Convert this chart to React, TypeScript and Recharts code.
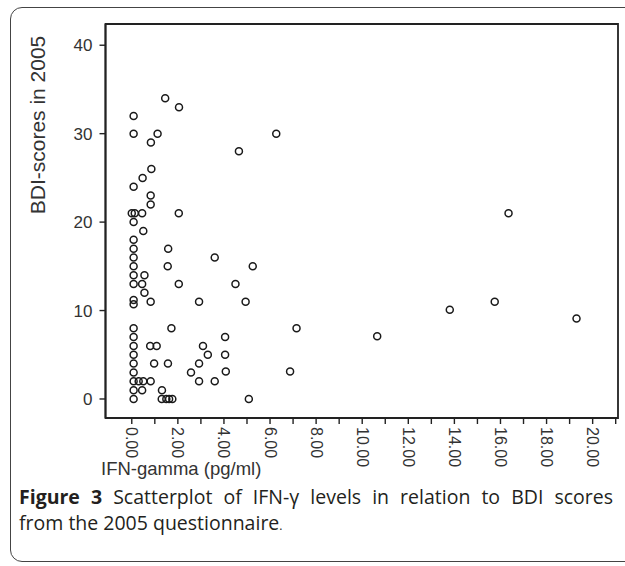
import React from 'react';
import { ScatterChart, Scatter, XAxis, YAxis, ReferenceArea } from 'recharts';

// IFN-gamma (pg/ml) and BDI score per participant, same order
const ifnGamma = [
  1.45, 2.05, 0.08, 0.08, 1.12, 6.27, 0.83, 4.65, 0.85, 0.47,
  0.08, 0.82, 0.82, 0.0, 0.13, 0.45, 2.04, 16.35, 0.08, 0.5,
  0.08, 0.08, 1.58, 0.08, 3.6, 0.08, 1.56, 5.25, 0.08, 0.55,
  0.08, 0.45, 2.04, 4.5, 0.55, 0.08, 0.08, 0.82, 2.92, 4.94,
  15.75, 13.8, 19.3, 0.08, 1.72, 7.15, 0.08, 4.05, 10.65, 0.08,
  0.8, 1.08, 3.09, 0.08, 3.3, 4.05, 0.08, 0.97, 1.57, 2.92,
  0.08, 2.57, 4.08, 6.87, 0.08, 0.3, 0.5, 0.82, 2.92, 3.6,
  0.08, 0.45, 1.31, 0.08, 1.3, 1.5, 1.62, 1.76, 5.08,
];
const bdiScores = [
  34, 33, 32, 30, 30, 30, 29, 28, 26, 25,
  24, 23, 22, 21, 21, 21, 21, 21, 20, 19,
  18, 17, 17, 16, 16, 15, 15, 15, 14, 14,
  13, 13, 13, 13, 12, 11.2, 10.7, 11, 11, 11,
  11, 10.1, 9.1, 8, 8, 8, 7, 7, 7.1, 6,
  6, 6, 6, 5, 5, 5, 4, 4, 4, 4,
  3, 3, 3.1, 3.1, 2, 2, 2, 2, 2, 2,
  1, 1, 1, 0, 0, 0, 0, 0, 0,
];

const xTicks = [0, 1, 2, 3, 4, 5, 6, 7, 8, 9, 10, 11, 12, 13, 14, 15, 16, 17, 18, 19, 20, 21];
const yTicks = [0, 10, 20, 30, 40];
const xDomain: [number, number] = [-1.14, 21.1];
const yDomain: [number, number] = [-2.15, 42.4];

const points = ifnGamma.map((x, i) => ({ x, y: bdiScores[i] }));

const ink = '#222';
const axisFont = '"Liberation Sans", Arial, sans-serif';
const captionFont = '"Open Sans", sans-serif';

function XTick(props: any) {
  const { x, y, payload } = props;
  if (payload.value % 2 !== 0) return null;
  return (
    <text
      x={x}
      y={y}
      transform={`rotate(90, ${x}, ${y})`}
      textAnchor="start"
      dominantBaseline="central"
      fontSize={16}
      fontFamily={axisFont}
      fill="#333"
    >
      {payload.value.toFixed(2)}
    </text>
  );
}

function Ring(props: any) {
  const { cx, cy } = props;
  return <circle cx={cx} cy={cy} r={3.5} fill="none" stroke="#1a1a1a" strokeWidth={1.5} />;
}

export default function App() {
  return (
    <div style={{ position: 'relative', width: 625, height: 566, overflow: 'hidden', background: '#fff' }}>
      <style>{'body{margin:0}'}</style>
      <div
        style={{
          position: 'absolute',
          left: 10,
          top: 7,
          width: 640,
          height: 555,
          border: '1.5px solid #444',
          borderRadius: 12,
          boxSizing: 'border-box',
        }}
      />
      <div
        style={{
          position: 'absolute',
          left: 38,
          top: 125,
          transform: 'translate(-50%, -50%) rotate(-90deg)',
          whiteSpace: 'nowrap',
          fontFamily: axisFont,
          fontSize: 21,
          color: '#333',
        }}
      >
        BDI-scores in 2005
      </div>
      <div style={{ position: 'absolute', left: 0, top: 0 }}>
        <ScatterChart width={625} height={478} margin={{ top: 24, right: 7, bottom: 0, left: 0 }}>
          <XAxis
            type="number"
            dataKey="x"
            domain={xDomain}
            allowDataOverflow
            ticks={xTicks}
            interval={0}
            height={60}
            tickSize={6}
            tickMargin={3}
            tick={<XTick />}
            axisLine={{ stroke: ink, strokeWidth: 1.8 }}
            tickLine={{ stroke: ink, strokeWidth: 1.4 }}
          />
          <YAxis
            type="number"
            dataKey="y"
            domain={yDomain}
            allowDataOverflow
            ticks={yTicks}
            interval={0}
            width={105.5}
            tickSize={6}
            tickMargin={7}
            tick={{ fontSize: 17, fontFamily: axisFont, fill: '#333' }}
            axisLine={{ stroke: ink, strokeWidth: 1.8 }}
            tickLine={{ stroke: ink, strokeWidth: 1.4 }}
          />
          <ReferenceArea
            x1={xDomain[0]}
            x2={xDomain[1]}
            y1={yDomain[0]}
            y2={yDomain[1]}
            fill="none"
            stroke={ink}
            strokeWidth={1.8}
            ifOverflow="extendDomain"
          />
          <Scatter data={points} shape={<Ring />} isAnimationActive={false} />
        </ScatterChart>
      </div>
      <div
        style={{
          position: 'absolute',
          left: 101,
          top: 458,
          fontFamily: axisFont,
          fontSize: 18.5,
          color: '#333',
          whiteSpace: 'nowrap',
        }}
      >
        IFN-gamma (pg/ml)
      </div>
      <div
        style={{
          position: 'absolute',
          left: 19,
          top: 484,
          width: 594,
          fontFamily: captionFont,
          fontSize: 19.5,
          lineHeight: '26px',
          color: '#231f20',
        }}
      >
        <div style={{ textAlign: 'justify', textAlignLast: 'justify', whiteSpace: 'normal' }}>
          <b>Figure 3</b> Scatterplot of IFN-γ levels in relation to BDI scores
        </div>
        <div>
          from the 2005 questionnaire<span style={{ fontSize: 12 }}>.</span>
        </div>
      </div>
    </div>
  );
}
